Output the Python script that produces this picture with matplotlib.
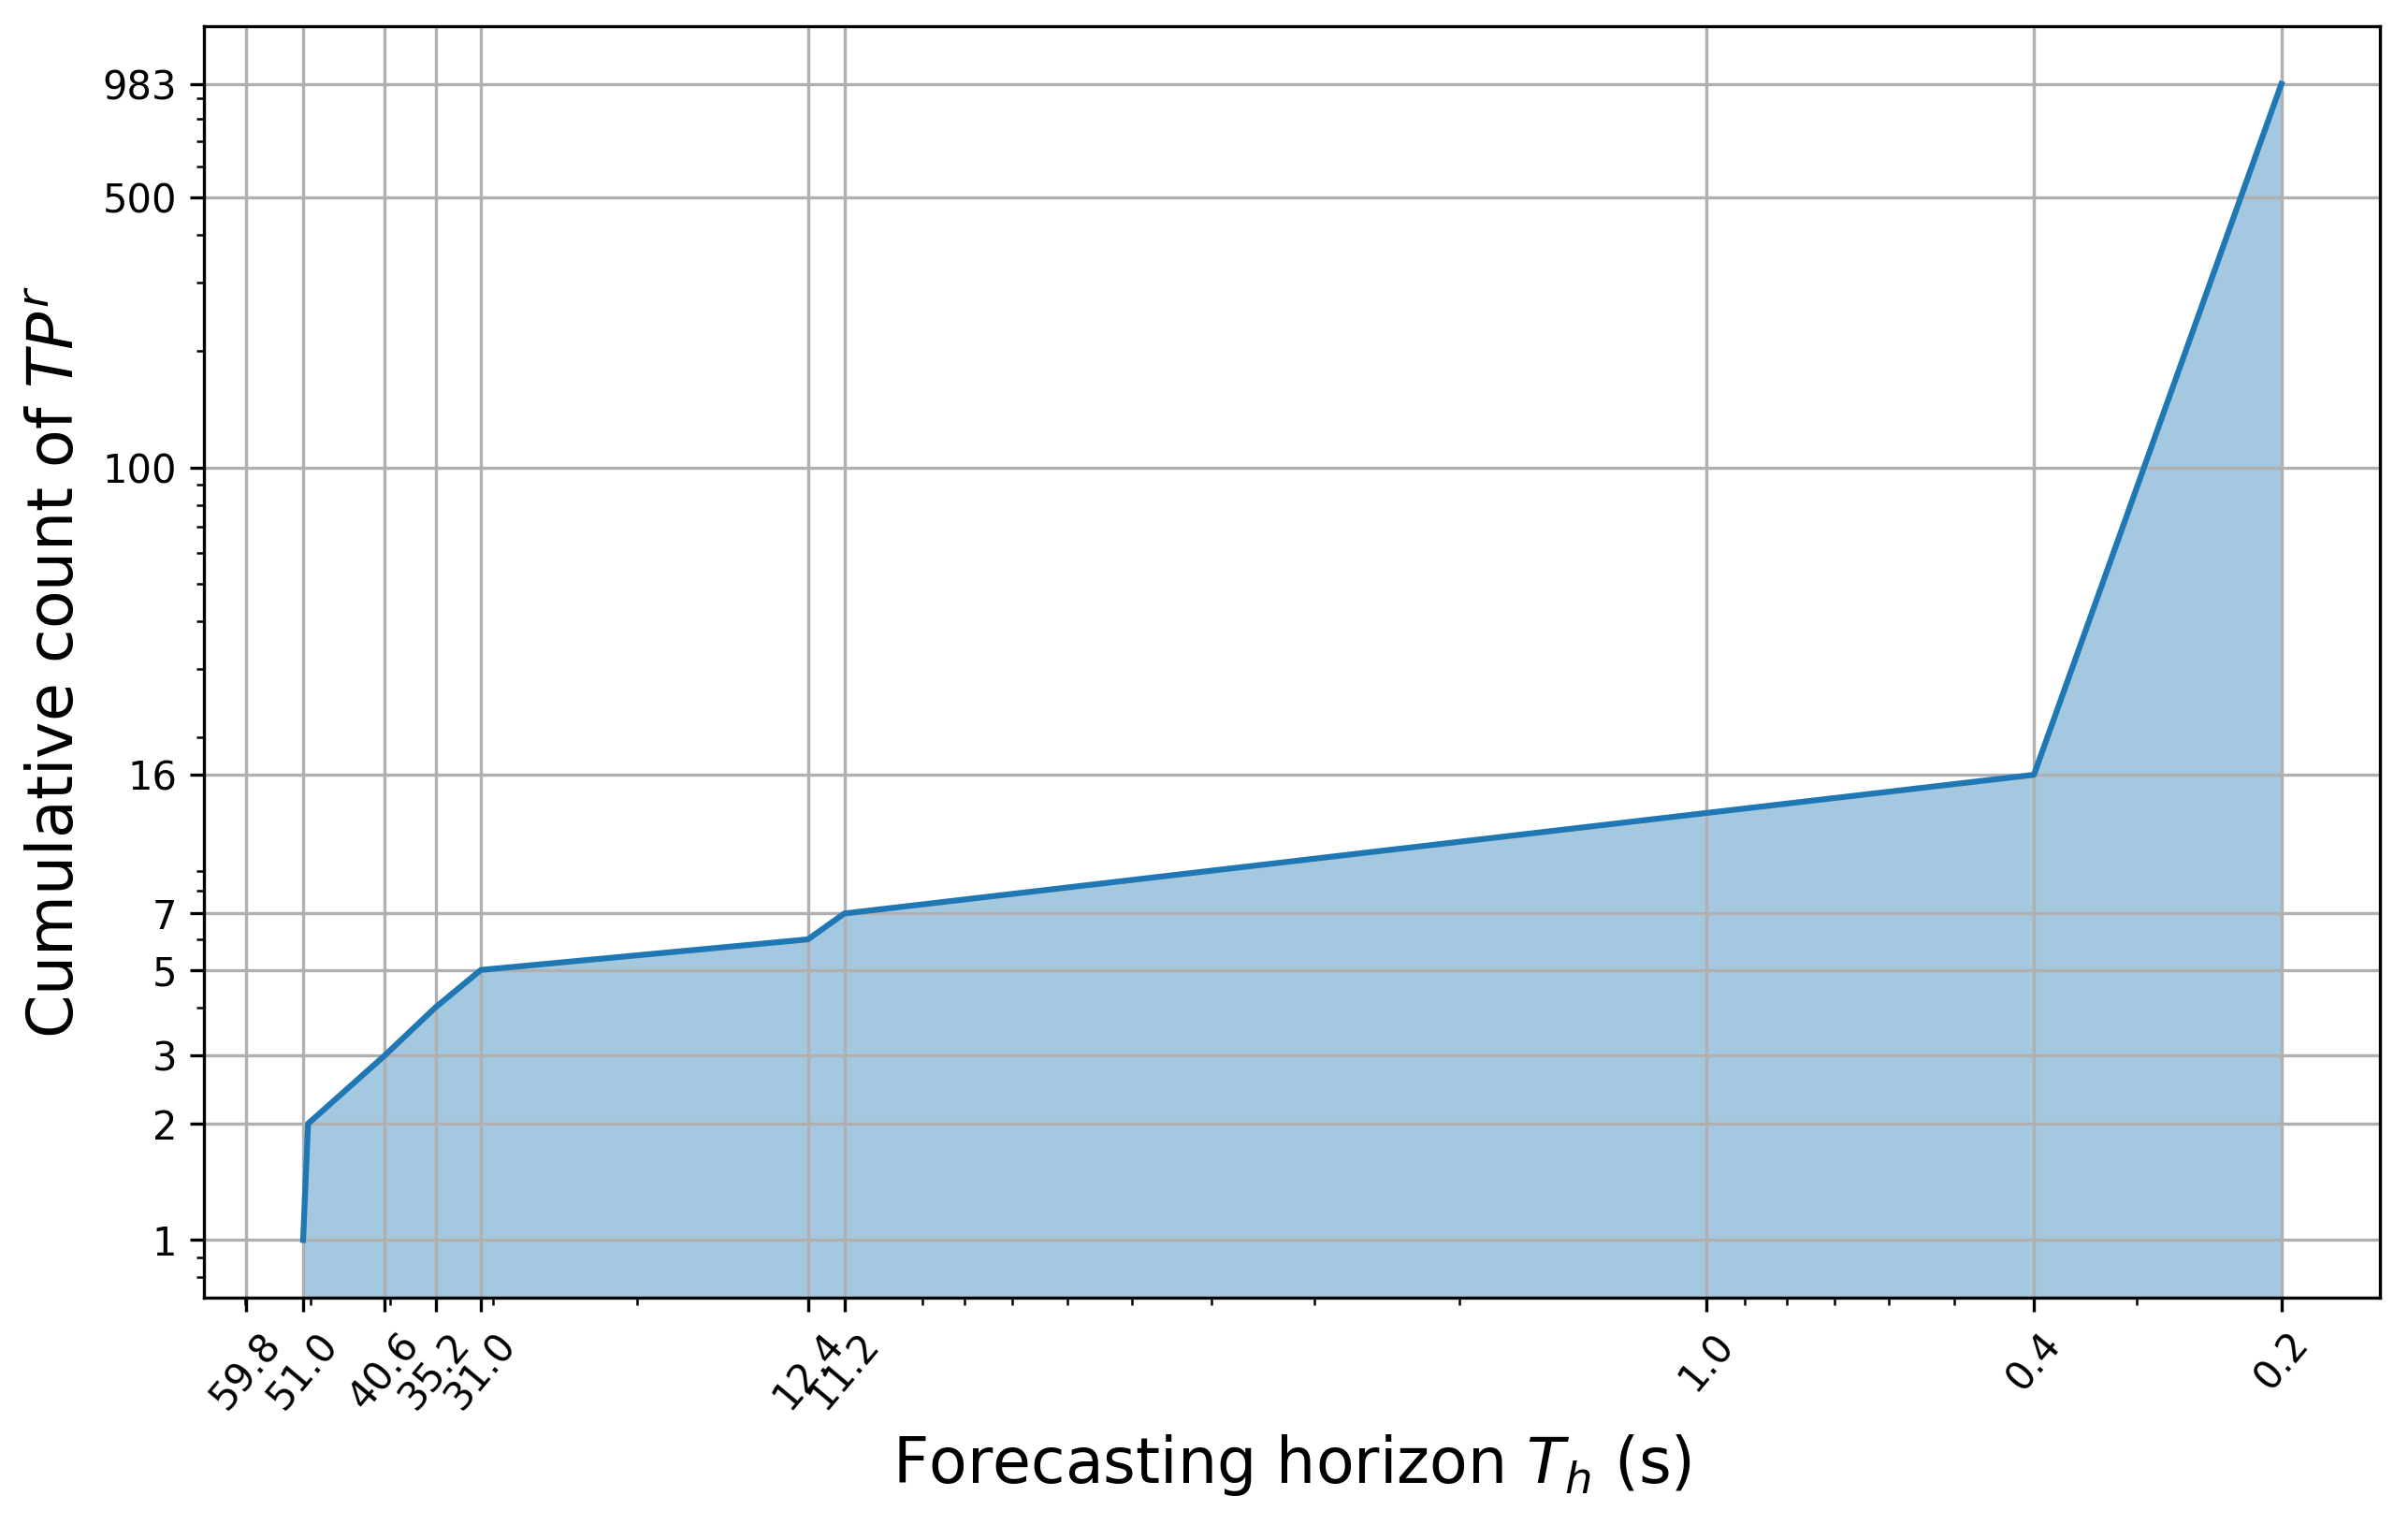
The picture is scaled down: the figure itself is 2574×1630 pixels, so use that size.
import matplotlib
matplotlib.use("Agg")
import matplotlib.pyplot as plt
from matplotlib.ticker import NullFormatter

# Data
horizon = [51.0, 50.3, 40.6, 35.2, 31.0, 12.4, 11.2, 0.4, 0.2]
cum_count = [1, 2, 3, 4, 5, 6, 7, 16, 983]
x_ticks = [59.8, 51.0, 40.6, 35.2, 31.0, 12.4, 11.2, 1.0, 0.4, 0.2]
x_tick_labels = ["59.8", "51.0", "40.6", "35.2", "31.0", "12.4", "11.2", "1.0", "0.4", "0.2"]
y_ticks = [1, 2, 3, 5, 7, 16, 100, 500, 983]
y_tick_labels = ["1", "2", "3", "5", "7", "16", "100", "500", "983"]

fig = plt.figure(figsize=(2574 / 300, 1630 / 300), dpi=300)
ax = fig.add_axes([0.0848, 0.149, 0.9037, 0.8339])

ax.plot(horizon, cum_count, color="C0", linewidth=1.5, zorder=2)
ax.fill_between(horizon, cum_count, color="C0", alpha=0.4, linewidth=0, zorder=1)

ax.set_xscale("log")
ax.set_yscale("log")
ax.invert_xaxis()

ax.set_xticks(x_ticks)
ax.set_xticklabels(x_tick_labels, rotation=50, fontsize=10)
ax.xaxis.set_minor_formatter(NullFormatter())
ax.set_yticks(y_ticks)
ax.set_yticklabels(y_tick_labels, fontsize=10)
ax.yaxis.set_minor_formatter(NullFormatter())

ax.grid(True, which="major", zorder=1.5)

ax.set_xlabel("Forecasting horizon $T_h$ (s)", fontsize=16)
ax.set_ylabel("Cumulative count of $TP^r$", fontsize=16)

fig.savefig("out.png", dpi=300)
